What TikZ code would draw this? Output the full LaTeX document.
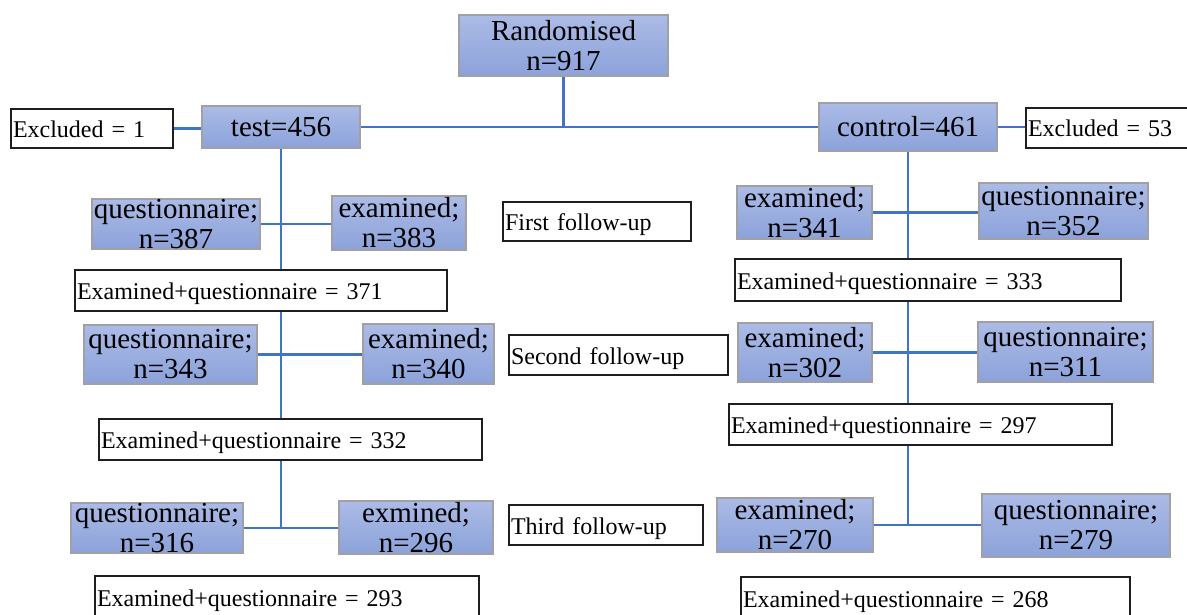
\documentclass[tikz,border=0pt]{standalone}
\usepackage{fontspec}
\setmainfont{Liberation Serif}
\definecolor{linec}{RGB}{68,114,196}
\definecolor{bborder}{RGB}{160,160,165}
\definecolor{btop}{RGB}{172,187,230}
\definecolor{bbot}{RGB}{139,162,218}
\definecolor{wborder}{RGB}{30,30,30}
\tikzset{
  bb/.style={rectangle, draw=bborder, line width=1.2pt, top color=btop, bottom color=bbot,
    align=center, inner sep=0pt, font=\fontsize{29}{30}\selectfont},
  wb/.style={rectangle, draw=wborder, line width=1.6pt, fill=white, align=left,
    inner xsep=2pt, inner ysep=0pt, text height=18pt, text depth=0pt,
    font=\fontsize{24}{26}\selectfont},
  conn/.style={draw=linec, line width=2.8pt}
}
\begin{document}
\begin{tikzpicture}[x=1pt,y=-1pt]
\useasboundingbox (0,0) rectangle (1187,615);
% blue boxes
\node[bb, minimum width=209pt, minimum height=61pt] (rand) at (563.5,45.5) {Randomised\\n=917};
\node[bb, minimum width=158pt, minimum height=42pt] (test) at (281,127) {test=456};
\node[bb, minimum width=178pt, minimum height=48pt] (control) at (908,127) {control=461};
\node[bb, minimum width=168pt, minimum height=50pt] (q387) at (176,224) {questionnaire;\\n=387};
\node[bb, minimum width=134pt, minimum height=54pt] (e383) at (399,223) {examined;\\n=383};
\node[bb, minimum width=135pt, minimum height=53pt] (e341) at (804.5,212.5) {examined;\\n=341};
\node[bb, minimum width=169pt, minimum height=56pt] (q352) at (1063.5,211) {questionnaire;\\n=352};
\node[bb, minimum width=173pt, minimum height=59pt] (q343) at (170.5,354.5) {questionnaire;\\n=343};
\node[bb, minimum width=131pt, minimum height=60pt] (e340) at (428.5,354) {examined;\\n=340};
\node[bb, minimum width=134pt, minimum height=59pt] (e302) at (805,352.5) {examined;\\n=302};
\node[bb, minimum width=175pt, minimum height=60pt] (q311) at (1065.5,352) {questionnaire;\\n=311};
\node[bb, minimum width=172pt, minimum height=50pt] (q316) at (157,528) {questionnaire;\\n=316};
\node[bb, minimum width=154pt, minimum height=53pt] (e296) at (416,527.5) {exmined;\\n=296};
\node[bb, minimum width=156pt, minimum height=54pt] (e270) at (795,525) {examined;\\n=270};
\node[bb, minimum width=188pt, minimum height=63pt] (q279) at (1076,525.5) {questionnaire;\\n=279};
% white boxes
\node[wb, minimum width=162pt, minimum height=39pt, text width=158pt] (ex1) at (92,128.5) {Excluded = 1};
\node[wb, minimum width=162pt, minimum height=40pt, text width=158pt] (ex53) at (1107,128) {Excluded = 53};
\node[wb, minimum width=372pt, minimum height=41pt, text width=368pt] (eq371) at (261,290.5) {Examined+questionnaire = 371};
\node[wb, minimum width=386pt, minimum height=42pt, text width=382pt] (eq333) at (928,280) {Examined+questionnaire = 333};
\node[wb, minimum width=383pt, minimum height=41pt, text width=379pt] (eq332) at (290.5,439.5) {Examined+questionnaire = 332};
\node[wb, minimum width=383pt, minimum height=41pt, text width=379pt] (eq297) at (920.5,424.5) {Examined+questionnaire = 297};
\node[wb, minimum width=384pt, minimum height=42pt, text width=380pt] (eq293) at (287,597) {Examined+questionnaire = 293};
\node[wb, minimum width=389pt, minimum height=42pt, text width=385pt] (eq268) at (935.5,598) {Examined+questionnaire = 268};
\node[wb, minimum width=188pt, minimum height=39pt, text width=184pt] (f1) at (597,221.5) {First follow-up};
\node[wb, minimum width=219pt, minimum height=40pt, text width=215pt] (f2) at (618.5,355) {Second follow-up};
\node[wb, minimum width=194pt, minimum height=40pt, text width=190pt] (f3) at (606,525) {Third follow-up};
% connectors
\draw[conn] (rand.south) -- (rand.south |- test.east);
\draw[conn] (test.east) -- (control.west);
\draw[conn] (ex1.east) -- (ex1.east -| test.west);
\draw[conn] (control.east) -- (control.east -| ex53.west);
% test arm
\draw[conn] (test.south) -- (test.south |- eq371.north);
\draw[conn] (q387.east) -- (q387.east -| e383.west);
\draw[conn] (test.south |- eq371.south) -- (test.south |- eq332.north);
\draw[conn] (q343.east) -- (q343.east -| e340.west);
\draw[conn] (test.south |- eq332.south) -- (test.south |- q316.east);
\draw[conn] (q316.east) -- (q316.east -| e296.west);
% control arm
\draw[conn] (control.south) -- (control.south |- eq333.north);
\draw[conn] (e341.east) -- (e341.east -| q352.west);
\draw[conn] (control.south |- eq333.south) -- (control.south |- eq297.north);
\draw[conn] (e302.east) -- (e302.east -| q311.west);
\draw[conn] (control.south |- eq297.south) -- (control.south |- e270.east);
\draw[conn] (e270.east) -- (e270.east -| q279.west);
\end{tikzpicture}
\end{document}
